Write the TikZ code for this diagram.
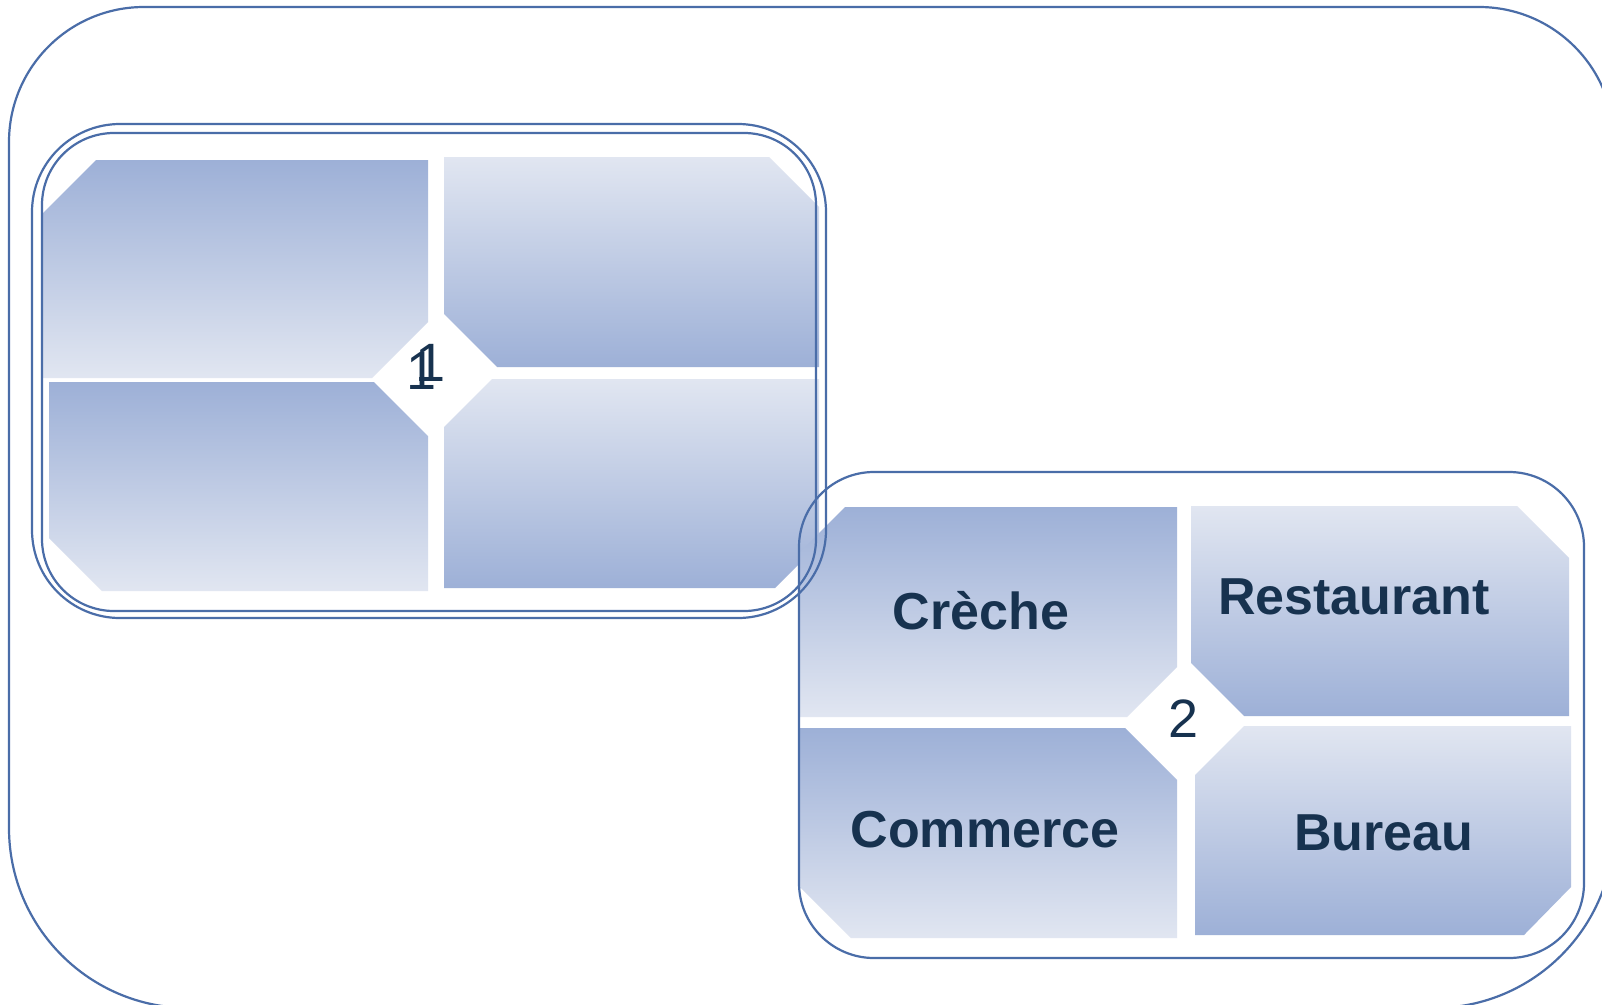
\documentclass[tikz,border=0pt]{standalone}
\usepackage{fontspec}
\setmainfont{Liberation Sans}
\definecolor{tiledark}{HTML}{9DB0D7}
\definecolor{tilelight}{HTML}{E1E6F1}
\definecolor{framecol}{HTML}{4A6DA8}
\definecolor{labeltext}{HTML}{17324F}
\tikzset{
  darktop/.style={top color=tiledark, bottom color=tilelight},
  lighttop/.style={top color=tilelight, bottom color=tiledark},
  frameline/.style={draw=framecol, line width=2.2pt},
  tilelabel/.style={text=labeltext, font=\fontsize{52}{60}\selectfont\bfseries, anchor=base, inner sep=0pt},
  numlabel/.style={text=labeltext, font=\fontsize{54}{60}\selectfont, anchor=base, inner sep=0pt}
}
\begin{document}
\begin{tikzpicture}[x=1pt, y=-1pt]
\useasboundingbox (0,0) rectangle (1602,1004);
\clip (0,0) rectangle (1602,1004);
\fill[white] (0,0) rectangle (1602,1004);

% --- group 1 tiles
\shade[darktop]  (41,215) -- (96,160) -- (428,160) -- (428,322) -- (372,378) -- (41,378) -- cycle;
\shade[darktop]  (49,382) -- (374,382) -- (428,436) -- (428,591) -- (102,591) -- (49,538) -- cycle;
\shade[lighttop] (444,157) -- (769,157) -- (819,207) -- (819,367) -- (497,367) -- (444,314) -- cycle;
\shade[lighttop] (444,427) -- (492,379) -- (819,379) -- (819,544) -- (775,588) -- (444,588) -- cycle;

% --- group 2 tiles
\shade[darktop]  (799,553) -- (845,507) -- (1177,507) -- (1177,667) -- (1127,717) -- (799,717) -- cycle;
\shade[lighttop] (1191,506) -- (1517,506) -- (1569,558) -- (1569,716) -- (1244,716) -- (1191,663) -- cycle;
\shade[darktop]  (800,728) -- (1125,728) -- (1177,780) -- (1177,938) -- (851,938) -- (800,887) -- cycle;
\shade[lighttop] (1195,775) -- (1244,726) -- (1571,726) -- (1571,887) -- (1524,935) -- (1195,935) -- cycle;

% --- outer frame: tighter corners on top, wider ones at the bottom
\draw[frameline] (9,142) -- (9,828)
  .. controls (9,927.4) and (89.6,1008) .. (189,1008) -- (1434,1008)
  .. controls (1533.4,1008) and (1614,927.4) .. (1614,828) -- (1614,142)
  .. controls (1614,67.4) and (1553.6,7) .. (1479,7) -- (144,7)
  .. controls (69.4,7) and (9,67.4) .. (9,142) -- cycle;

% --- group frames
\draw[frameline, rounded corners=88pt] (32,124) rectangle (826,618);
\draw[frameline, rounded corners=72pt] (42,133) rectangle (816,611);
\draw[frameline, rounded corners=75pt] (799,472) rectangle (1584,958);

% --- labels
\node[numlabel] (numA) at (422,389) {1};
\node[numlabel] (numB) at (431,381) {1};
\node[numlabel] (numC) at (1183,737) {2};
\node[tilelabel] (creche) at (981,629) {Crèche};
\node[tilelabel] (restaurant) at (1354,614) {Restaurant};
\node[tilelabel] (commerce) at (985,847) {Commerce};
\node[tilelabel] (bureau) at (1384,850) {Bureau};
\end{tikzpicture}
\end{document}
